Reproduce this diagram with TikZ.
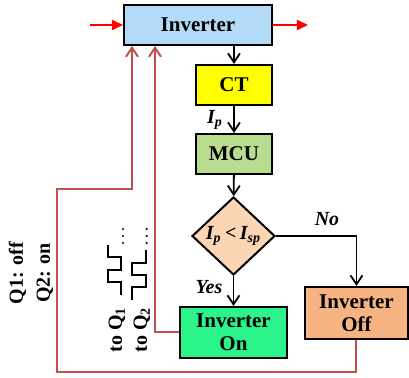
\documentclass[tikz,border=0pt]{standalone}
\usepackage{fontspec}
\setmainfont{Liberation Serif}
\usetikzlibrary{
  positioning,
  arrows.meta,
  shapes.geometric
}
\definecolor{invblue}{HTML}{B3DBF7}
\definecolor{ctyellow}{HTML}{FFFF00}
\definecolor{mcugreen}{HTML}{B8DD8E}
\definecolor{peach}{HTML}{FCD5B4}
\definecolor{ongreen}{HTML}{2BF58A}
\definecolor{offorange}{HTML}{F5B482}
\definecolor{brick}{HTML}{C0504D}

\begin{document}
\begin{tikzpicture}[x=0.5pt, y=-0.5pt,
  box/.style={draw, line width=1pt, fill=#1, font=\bfseries\fontsize{10.5}{11.5}\selectfont, align=center, inner sep=0pt},
  lbl/.style={font=\bfseries\itshape\fontsize{10}{12}\selectfont},
  side/.style={font=\bfseries\fontsize{10}{13.5}\selectfont, rotate=90, align=center},
  flow/.style={-{Straight Barb[length=4.5pt,width=6pt]}, line width=0.9pt},
  sig/.style={-{Straight Barb[length=4.5pt,width=6pt]}, line width=1pt, brick},
  feed/.style={-{Triangle[length=5.5pt,width=5pt]}, line width=0.9pt, red},
  pulse/.style={line width=1pt}
]
  \useasboundingbox (0,0) rectangle (409,378);

  % Blocks
  \node[box=invblue, minimum width=74pt, minimum height=20pt] (inv) at (198,25) {Inverter};
  \node[box=ctyellow, minimum width=38pt, minimum height=20pt] (ct) at (234,85) {CT};
  \node[box=mcugreen, minimum width=38pt, minimum height=20pt] (mcu) at (234,154) {MCU};
  \node[diamond, draw, line width=1pt, fill=peach, minimum width=41.5pt, minimum height=39pt, inner sep=0pt,
    font=\bfseries\fontsize{10}{12}\selectfont] (cmp) at (233.5,236)
    {\itshape I\textsubscript{p}\upshape\,<\,\itshape I\textsubscript{sp}};
  \node[box=ongreen, minimum width=53.5pt, minimum height=25.5pt] (on) at (233.5,332.5) {Inverter\\On};
  \node[box=offorange, minimum width=51.5pt, minimum height=26pt] (off) at (356.5,313) {Inverter\\Off};

  % Labels
  \node[lbl] (ip) at (215,120) {I\textsubscript{p}};
  \node[lbl] (no) at (327,219) {No};
  \node[lbl] (yes) at (209,287) {Yes};
  \node[side] (qstate) at (31,273) {Q1: off\\Q2: on};
  \node[side, font=\bfseries\fontsize{10}{12}\selectfont] (toq1) at (117,330) {to Q\textsubscript{1}};
  \node[side, font=\bfseries\fontsize{10}{12}\selectfont] (toq2) at (142,330) {to Q\textsubscript{2}};

  % Power path
  \coordinate (pin) at (90,25);
  \coordinate (pout) at (308,25);
  \draw[feed] (pin) -- (inv.west);
  \draw[feed] (inv.east) -- (pout);

  % Control flow
  \draw[flow] (inv.south -| ct.north) -- (ct.north);
  \draw[flow] (ct) -- (mcu);
  \draw[flow] (mcu) -- (cmp);
  \draw[flow] (cmp.south) -- (on.north);
  \draw[flow] (cmp.east) -| (off.north);

  % Gate signals back to the inverter
  \draw[sig] (on.west) -| ([xshift=16pt]inv.south west);
  \draw[sig] (off.south) |- (57,372) -- (57,189) -| ([xshift=4.5pt]inv.south west);

  % Pulses
  \draw[pulse] (108,245) -- (108,256.7) -- (120.7,256.7) -- (120.7,270) -- (108,270)
    -- (108,281.7) -- (120.7,281.7) -- (120.7,295);
  \draw[pulse] (145.7,250) -- (145.7,263.3) -- (132.3,263.3) -- (132.3,275) -- (145.7,275)
    -- (145.7,286.7) -- (132.3,286.7) -- (132.3,300);
  \foreach \y in {229,236,243} {
    \fill (123,\y) circle (0.6pt);
    \fill (146.7,\y) circle (0.6pt);
  }
\end{tikzpicture}
\end{document}
